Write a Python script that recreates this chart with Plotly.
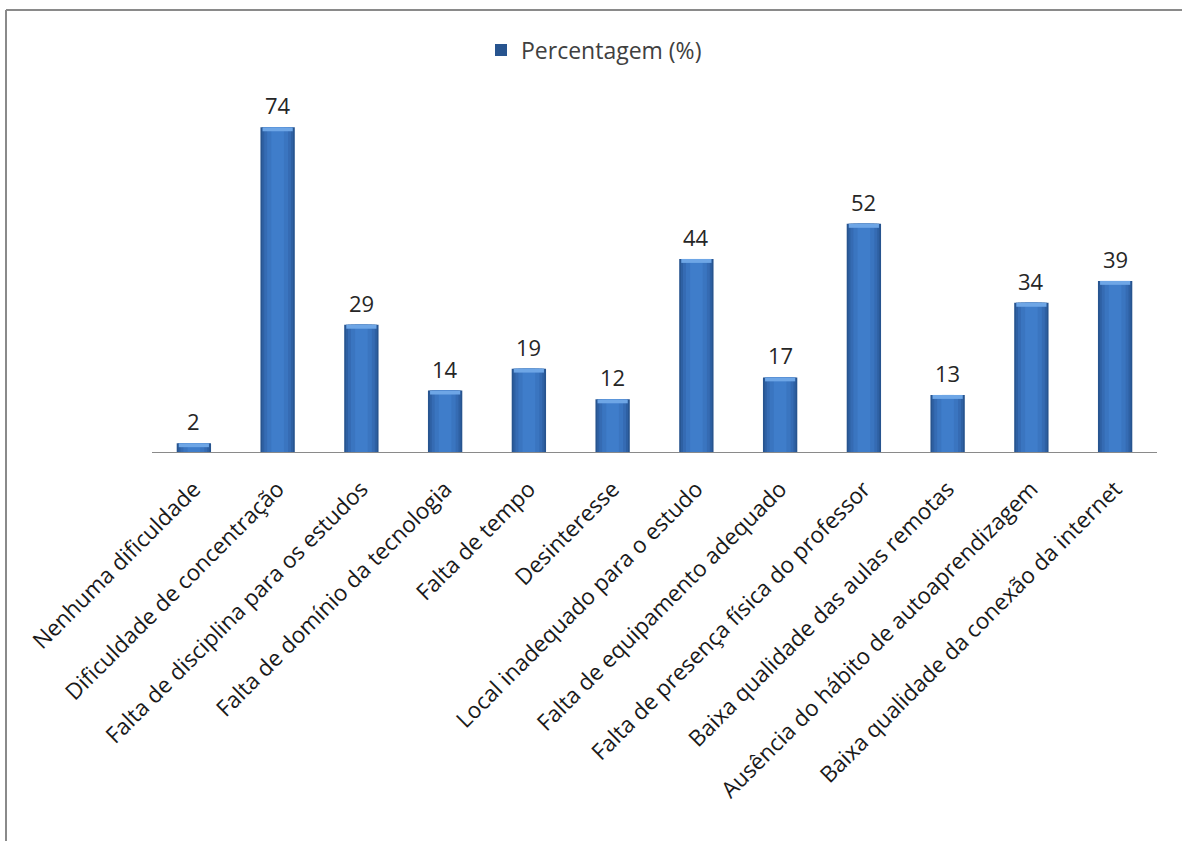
import plotly.graph_objects as go

categories = [
    "Nenhuma dificuldade",
    "Dificuldade de concentração",
    "Falta de disciplina para os estudos",
    "Falta de domínio da tecnologia",
    "Falta de tempo",
    "Desinteresse",
    "Local inadequado para o estudo",
    "Falta de equipamento adequado",
    "Falta de presença física do professor",
    "Baixa qualidade das aulas remotas",
    "Ausência do hábito de autoaprendizagem",
    "Baixa qualidade da conexão da internet",
]
values = [2, 74, 29, 14, 19, 12, 44, 17, 52, 13, 34, 39]
series_name = "Percentagem (%)"

W, H = 1182, 841
L, R, T, B = 152, 25, 101, 389
pw, ph = W - L - R, H - T - B
ymax = 80

fig = go.Figure()

# layered bars for cylinder-like shading
layers = [
    (0.41, "#27548f"),
    (0.37, "#2e60a3"),
    (0.32, "#356bb3"),
    (0.25, "#3a75c0"),
    (0.15, "#3f7dca"),
]
for i, (wd, col) in enumerate(layers):
    fig.add_trace(go.Bar(
        x=categories, y=values, width=wd,
        marker=dict(color=col, line=dict(width=0)),
        name=series_name, showlegend=(i == 0),
        textposition="none",
        cliponaxis=False,
        hoverinfo="skip",
    ))

# light cap at the top of each bar
cap = 0.9
fig.add_trace(go.Bar(
    x=categories, y=[min(cap, v) for v in values],
    base=[v - min(cap, v) for v in values],
    width=0.36, marker=dict(color="#6ea6e6", line=dict(width=0)),
    showlegend=False, hoverinfo="skip", textposition="none",
))

# value labels
annotations = [
    dict(x=c, y=v, xref="x", yref="y", text=str(v), showarrow=False,
         yanchor="bottom", yshift=5,
         font=dict(family="Open Sans", size=22, color="#262626"))
    for c, v in zip(categories, values)
]

def px_x(p):
    return (p - L) / pw

def px_y(p):
    return (H - B - p) / ph

shapes = [
    dict(type="line", xref="paper", yref="paper",
         x0=px_x(6), x1=px_x(W + 5), y0=px_y(10), y1=px_y(10),
         line=dict(color="#8a8a8a", width=2)),
    dict(type="line", xref="paper", yref="paper",
         x0=px_x(6), x1=px_x(6), y0=px_y(10), y1=px_y(H + 5),
         line=dict(color="#8a8a8a", width=2)),
]

fig.update_layout(
    width=W, height=H,
    margin=dict(l=L, r=R, t=T, b=B, pad=0),
    paper_bgcolor="white", plot_bgcolor="white",
    barmode="overlay",
    showlegend=True,
    legend=dict(orientation="h", x=px_x(481), xanchor="left",
                y=px_y(50), yanchor="middle",
                font=dict(family="Open Sans", size=23, color="#404040"),
                bgcolor="rgba(0,0,0,0)"),
    xaxis=dict(type="category", tickangle=-45, showline=True,
               linecolor="#8a8a8a", linewidth=1, ticks="",
               ticklabelstandoff=14,
               showgrid=False, zeroline=False,
               tickfont=dict(family="Open Sans", size=22.5, color="#1a1a1a")),
    yaxis=dict(range=[0, ymax], visible=False, showgrid=False, zeroline=False),
    shapes=shapes,
    annotations=annotations,
    font=dict(family="Open Sans"),
)

fig.write_html("out.html")
